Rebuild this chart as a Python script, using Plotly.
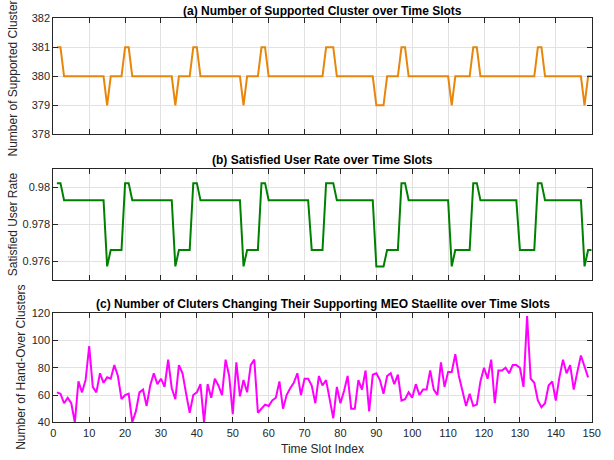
import plotly.graph_objects as go

# ---------------- data ----------------
slots = list(range(1, 151))
ho_slots = list(range(1, 150))

supported_clusters = [
    381, 381, 380, 380, 380, 380, 380, 380, 380, 380, 380, 380, 380, 380, 379,
    380, 380, 380, 380, 381, 381, 380, 380, 380, 380, 380, 380, 380, 380, 380,
    380, 380, 380, 379, 380, 380, 380, 380, 381, 381, 380, 380, 380, 380, 380,
    380, 380, 380, 380, 380, 380, 380, 379, 380, 380, 380, 380, 381, 381, 380,
    380, 380, 380, 380, 380, 380, 380, 380, 380, 380, 380, 380, 380, 380, 380,
    381, 381, 381, 380, 380, 380, 380, 380, 380, 380, 380, 380, 380, 380, 379,
    379, 379, 380, 380, 380, 380, 381, 381, 380, 380, 380, 380, 380, 380, 380,
    380, 380, 380, 380, 380, 379, 380, 380, 380, 380, 380, 381, 381, 380, 380,
    380, 380, 380, 380, 380, 380, 380, 380, 380, 380, 380, 380, 380, 380, 381,
    381, 380, 380, 380, 380, 380, 380, 380, 380, 380, 380, 380, 379, 380, 380,
]

satisfied_rate = [
    0.98022, 0.98022, 0.97930, 0.97930, 0.97930, 0.97930, 0.97930, 0.97930, 0.97930, 0.97930,
    0.97930, 0.97930, 0.97930, 0.97930, 0.97572, 0.97660, 0.97660, 0.97660, 0.97660, 0.98022,
    0.98022, 0.97930, 0.97930, 0.97930, 0.97930, 0.97930, 0.97930, 0.97930, 0.97930, 0.97930,
    0.97930, 0.97930, 0.97930, 0.97572, 0.97660, 0.97660, 0.97660, 0.97660, 0.98022, 0.98022,
    0.97930, 0.97930, 0.97930, 0.97930, 0.97930, 0.97930, 0.97930, 0.97930, 0.97930, 0.97930,
    0.97930, 0.97930, 0.97572, 0.97660, 0.97660, 0.97660, 0.97660, 0.98022, 0.98022, 0.97930,
    0.97930, 0.97930, 0.97930, 0.97930, 0.97930, 0.97930, 0.97930, 0.97930, 0.97930, 0.97930,
    0.97930, 0.97660, 0.97660, 0.97660, 0.97660, 0.98022, 0.98022, 0.98022, 0.97930, 0.97930,
    0.97930, 0.97930, 0.97930, 0.97930, 0.97930, 0.97930, 0.97930, 0.97930, 0.97930, 0.97572,
    0.97572, 0.97572, 0.97660, 0.97660, 0.97660, 0.97660, 0.98022, 0.98022, 0.97930, 0.97930,
    0.97930, 0.97930, 0.97930, 0.97930, 0.97930, 0.97930, 0.97930, 0.97930, 0.97930, 0.97930,
    0.97572, 0.97660, 0.97660, 0.97660, 0.97660, 0.97660, 0.98022, 0.98022, 0.97930, 0.97930,
    0.97930, 0.97930, 0.97930, 0.97930, 0.97930, 0.97930, 0.97930, 0.97930, 0.97930, 0.97660,
    0.97660, 0.97660, 0.97660, 0.97660, 0.98022, 0.98022, 0.97930, 0.97930, 0.97930, 0.97930,
    0.97930, 0.97930, 0.97930, 0.97930, 0.97930, 0.97930, 0.97930, 0.97572, 0.97660, 0.97660,
]

handover_clusters = [
    62, 61, 54, 58, 54, 40, 70, 62, 71, 96, 66, 62, 76, 69, 73, 72, 82, 74, 57, 60,
    61, 40, 48, 62, 64, 52, 67, 76, 68, 72, 66, 86, 65, 57, 82, 76, 61, 47, 60, 62,
    68, 40, 68, 58, 72, 67, 60, 86, 74, 46, 84, 59, 71, 62, 82, 86, 47, 50, 53, 52,
    56, 58, 70, 50, 60, 65, 69, 76, 60, 72, 72, 67, 54, 74, 67, 71, 57, 43, 66, 54,
    63, 74, 50, 50, 71, 64, 78, 48, 75, 76, 71, 61, 74, 76, 68, 75, 56, 57, 62, 58,
    68, 60, 64, 64, 78, 64, 60, 84, 66, 77, 77, 90, 74, 63, 52, 61, 52, 53, 70, 80,
    72, 86, 54, 78, 78, 80, 76, 82, 82, 80, 66, 118, 72, 69, 56, 51, 54, 67, 70, 56,
    73, 86, 76, 82, 64, 77, 89, 81, 73,
]

x_ticks = list(range(0, 151, 10))
ya_ticks = [378, 379, 380, 381, 382]
yb_ticks = [0.976, 0.978, 0.98]
yb_ticktext = ["0.976", "0.978", "0.98"]
yc_ticks = [40, 60, 80, 100, 120]

titles = [
    "(a) Number of Supported Cluster over Time Slots",
    "(b) Satisfied User Rate over Time Slots",
    "(c) Number of Cluters Changing Their Supporting MEO Staellite over Time Slots",
]
y_titles = ["Number of Supported Cluster", "Satisfied User Rate", "Number of Hand-Over Clusters"]
x_title = "Time Slot Index"

# ---------------- layout helpers ----------------
W, H = 614, 460
FONT = "Liberation Sans, Arial, Helvetica, sans-serif"
AX = "#262626"


def px(x):
    return x / W


def py(y):
    return 1 - y / H


x_dom = [px(53.3), px(591.7)]
panels = [(18.3, 134.3), (168.7, 279.7), (313.3, 422.3)]

fig = go.Figure()
fig.add_trace(go.Scatter(x=slots, y=supported_clusters, mode="lines",
                         line=dict(color="#E8860C", width=2), xaxis="x", yaxis="y"))
fig.add_trace(go.Scatter(x=slots, y=satisfied_rate, mode="lines",
                         line=dict(color="#008000", width=2), xaxis="x2", yaxis="y2"))
fig.add_trace(go.Scatter(x=ho_slots, y=handover_clusters, mode="lines",
                         line=dict(color="#FF00FF", width=2), xaxis="x3", yaxis="y3"))

common = dict(showgrid=True, gridcolor="#e2e2e2", gridwidth=1, showline=True,
              linecolor=AX, linewidth=1, mirror="ticks", ticks="inside", ticklen=5,
              tickcolor=AX, tickwidth=1, zeroline=False,
              tickfont=dict(family=FONT, size=11, color=AX), automargin=False)


def xax(anchor, labels):
    return dict(domain=x_dom, anchor=anchor, range=[0, 150], tickvals=x_ticks,
                showticklabels=labels, **common)


fig.update_layout(
    width=W, height=H,
    margin=dict(l=0, r=0, t=0, b=0),
    paper_bgcolor="white", plot_bgcolor="white",
    showlegend=False,
    hovermode=False,
    font=dict(family=FONT, color=AX),
    xaxis=xax("y", False),
    xaxis2=xax("y2", False),
    xaxis3=xax("y3", True),
    yaxis=dict(domain=[py(panels[0][1]), py(panels[0][0])], anchor="x",
               range=[378, 382], tickvals=ya_ticks, **common),
    yaxis2=dict(domain=[py(panels[1][1]), py(panels[1][0])], anchor="x2",
                range=[0.975, 0.981], tickvals=yb_ticks, ticktext=yb_ticktext, **common),
    yaxis3=dict(domain=[py(panels[2][1]), py(panels[2][0])], anchor="x3",
                range=[40, 120], tickvals=yc_ticks, **common),
)

annotations = []
title_y = [11, 160, 304]
for t, yy in zip(titles, title_y):
    annotations.append(dict(text="<b>" + t + "</b>", x=px(322.5), y=py(yy), xref="paper", yref="paper",
                            xanchor="center", yanchor="middle", showarrow=False,
                            font=dict(family=FONT, size=12, color="black")))
ytitle_x = [13, 13, 21]
ytitle_y = [78.5, 224.2, 367.8]
for t, xx, yy in zip(y_titles, ytitle_x, ytitle_y):
    annotations.append(dict(text=t, x=px(xx), y=py(yy), xref="paper", yref="paper",
                            xanchor="center", yanchor="middle", textangle=-90, showarrow=False,
                            font=dict(family=FONT, size=12, color=AX)))
annotations.append(dict(text=x_title, x=px(322.5), y=py(449), xref="paper", yref="paper",
                        xanchor="center", yanchor="middle", showarrow=False,
                        font=dict(family=FONT, size=12, color=AX)))
fig.update_layout(annotations=annotations)

# remove the browser's default 8px body margin so the figure fills the window
fig.write_html("out.html", config={"displayModeBar": False},
               post_script="document.body.style.margin='0';")
